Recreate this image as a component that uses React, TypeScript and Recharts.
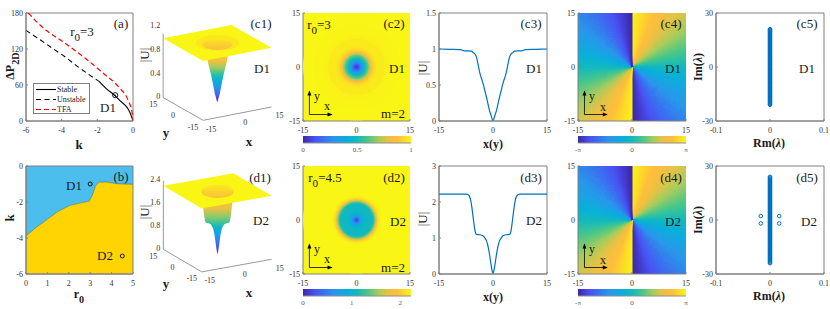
import React from "react";
import {
  Area,
  ComposedChart,
  Legend,
  Line,
  Pie,
  PieChart,
  ReferenceArea,
  Scatter,
  XAxis,
  YAxis,
  ZAxis,
} from "recharts";

const FONT = '"Liberation Serif", serif';
const BLUE = "#0072BD";

// panel (a): power curves
const stableK = [-1.9, -1.5, -1.02, -0.7, -0.37, -0.2, -0.09, 0];
const stableP = [66, 54, 42.5, 33, 24, 16, 8, 0];
const unstableK = [-6, -5.59, -4.75, -3.82, -2.98, -1.9];
const unstableP = [151, 143, 126, 107, 88, 66];
const tfaK = [-5.87, -5.03, -3.82, -2.7, -1.68, -0.75, -0.28, -0.04, 0];
const tfaP = [180, 155, 130, 105, 80, 55, 35, 12, 0];
const legendNames = ["Stable", "Unstable", "TFA"];
const legendColors = ["#000", "#000", "#FF0000"];
const legendDashes = [undefined, "5 3.5", "5 3"];

// panel (b): stability boundary
const boundaryR = [0, 0.5, 1, 1.5, 2.05, 2.5, 2.95, 3.1, 3.25, 3.42, 3.76, 4.22, 5];
const boundaryK = [-3.89, -3.39, -2.96, -2.52, -2.19, -2.06, -1.96, -1.63, -1.11, -0.89, -0.89, -0.98, -1.02];
const stateR = [3, 4.5];
const stateK = [-1, -5];

// radial amplitude profiles
const d1R = [0, 0.3, 0.6, 1, 1.4, 1.8, 2.2, 2.6, 3, 3.4, 3.8, 4.2, 4.6, 5, 5.5, 6, 7, 8, 9, 12, 15];
const d1U = [0, 0.04, 0.09, 0.15, 0.24, 0.33, 0.41, 0.49, 0.56, 0.62, 0.7, 0.8, 0.89, 0.93, 0.95, 0.97, 0.975, 0.975, 0.99, 0.995, 1];
const d2R = [0, 0.3, 0.6, 0.9, 1.2, 1.5, 1.8, 2.2, 2.8, 3.6, 4.6, 5, 5.4, 5.8, 6.2, 6.6, 7, 7.5, 8, 10, 15];
const d2U = [0, 0.12, 0.3, 0.5, 0.68, 0.82, 0.92, 0.99, 1.06, 1.09, 1.1, 1.2, 1.48, 1.8, 2.05, 2.17, 2.21, 2.22, 2.22, 2.22, 2.22];

// phase of each pie slice over one winding, 1 = +pi, 0 = -pi
const phaseSlices = [
  0.993, 0.979, 0.965, 0.951, 0.938, 0.924, 0.91, 0.896, 0.882, 0.868, 0.854, 0.84,
  0.826, 0.813, 0.799, 0.785, 0.771, 0.757, 0.743, 0.729, 0.715, 0.701, 0.688, 0.674,
  0.66, 0.646, 0.632, 0.618, 0.604, 0.59, 0.576, 0.563, 0.549, 0.535, 0.521, 0.507,
  0.493, 0.479, 0.465, 0.451, 0.438, 0.424, 0.41, 0.396, 0.382, 0.368, 0.354, 0.34,
  0.326, 0.313, 0.299, 0.285, 0.271, 0.257, 0.243, 0.229, 0.215, 0.201, 0.188, 0.174,
  0.16, 0.146, 0.132, 0.118, 0.104, 0.09, 0.076, 0.063, 0.049, 0.035, 0.021, 0.007,
];

// linear stability spectra
const d1Im = [
  -21, -20.5, -20, -19.5, -19, -18.5, -18, -17.5, -17, -16.5, -16, -15.5, -15, -14.5, -14, -13.5, -13, -12.5, -12, -11.5, -11,
  -10.5, -10, -9.5, -9, -8.5, -8, -7.5, -7, -6.5, -6, -5.5, -5, -4.5, -4, -3.5, -3, -2.5, -2, -1.5, -1, -0.5, 0,
  0.5, 1, 1.5, 2, 2.5, 3, 3.5, 4, 4.5, 5, 5.5, 6, 6.5, 7, 7.5, 8, 8.5, 9, 9.5, 10, 10.5,
  11, 11.5, 12, 12.5, 13, 13.5, 14, 14.5, 15, 15.5, 16, 16.5, 17, 17.5, 18, 18.5, 19, 19.5, 20, 20.5, 21,
];
const d2Im = [
  -24, -23.5, -23, -22.5, -22, -21.5, -21, -20.5, -20, -19.5, -19, -18.5, -18, -17.5, -17, -16.5, -16, -15.5, -15, -14.5, -14, -13.5, -13, -12.5, -12,
  -11.5, -11, -10.5, -10, -9.5, -9, -8.5, -8, -7.5, -7, -6.5, -6, -5.5, -5, -4.5, -4, -3.5, -3, -2.5, -2, -1.5, -1, -0.5, 0,
  0.5, 1, 1.5, 2, 2.5, 3, 3.5, 4, 4.5, 5, 5.5, 6, 6.5, 7, 7.5, 8, 8.5, 9, 9.5, 10, 10.5, 11, 11.5,
  12, 12.5, 13, 13.5, 14, 14.5, 15, 15.5, 16, 16.5, 17, 17.5, 18, 18.5, 19, 19.5, 20, 20.5, 21, 21.5, 22, 22.5, 23, 23.5, 24,
];
const d2OutRm = [-0.017, -0.017, 0.017, 0.017];
const d2OutIm = [2.2, -1.9, 2.2, -1.9];

const parulaStops: [number, string][] = [
  [0, "#3E26A8"],
  [0.11, "#4852F4"],
  [0.29, "#2797EB"],
  [0.42, "#08B0D8"],
  [0.5, "#12B9BE"],
  [0.6, "#4AC788"],
  [0.7, "#A8CC5C"],
  [0.78, "#E6C244"],
  [0.87, "#FFBE3A"],
  [1, "#F9F515"],
];

const parula = (t: number) => {
  const v = Math.max(0, Math.min(1, t));
  for (let i = 1; i < parulaStops.length; i++) {
    const [t1, c1] = parulaStops[i];
    if (v <= t1) {
      const [t0, c0] = parulaStops[i - 1];
      const f = (v - t0) / (t1 - t0);
      const part = (p: number) => {
        const a = parseInt(c0.slice(p, p + 2), 16);
        const b = parseInt(c1.slice(p, p + 2), 16);
        return Math.round(a + (b - a) * f);
      };
      return `rgb(${part(1)},${part(3)},${part(5)})`;
    }
  }
  return parulaStops[parulaStops.length - 1][1];
};

const zip = (xs: number[], ys: number[]) => xs.map((x, i) => ({ x, y: ys[i] }));
const mirror = (rs: number[], us: number[]) => [
  ...rs.slice(1).reverse().map((r, i) => ({ x: -r, y: us[us.length - 1 - i] })),
  ...rs.map((r, i) => ({ x: r, y: us[i] })),
];

const TOP = { a: 13, b: 166 };
const HEIGHT = 108;
const tick = { fontSize: 8, fill: "#333", fontFamily: FONT };

// chart box whose plot area lands exactly on l..r, t..t+HEIGHT
const box = (l: number, t: number, r: number) => ({
  style: { position: "absolute" as const, left: l - 28, top: t - 6 },
  width: r - l + 36,
  height: HEIGHT + 20,
  margin: { top: 6, right: 8, bottom: 0, left: 0 },
});

const axes = (xDomain: number[], xTicks: number[], yDomain: number[], yTicks: number[]) => [
  <XAxis
    key="x"
    type="number"
    dataKey="x"
    domain={xDomain}
    ticks={xTicks}
    interval={0}
    height={14}
    tick={tick}
    tickSize={-2}
    tickMargin={8}
    stroke="#808080"
    allowDataOverflow
  />,
  <YAxis
    key="y"
    type="number"
    domain={yDomain}
    ticks={yTicks}
    interval={0}
    width={28}
    tick={tick}
    tickSize={-2}
    tickMargin={5}
    stroke="#808080"
    allowDataOverflow
  />,
];

const frame = (xDomain: number[], yDomain: number[]) => (
  <ReferenceArea
    x1={xDomain[0]}
    x2={xDomain[1]}
    y1={yDomain[0]}
    y2={yDomain[1]}
    fill="none"
    stroke="#808080"
    strokeWidth={1}
    ifOverflow="visible"
  />
);

const Txt = ({ x, y, size = 13, bold, rotate, color = "#1a1a1a", children }: any) => (
  <span
    style={{
      position: "absolute",
      left: x,
      top: y,
      fontFamily: FONT,
      fontSize: size,
      fontWeight: bold ? "bold" : "normal",
      color,
      lineHeight: 1,
      whiteSpace: "nowrap",
      transform: `translate(-50%,-50%)${rotate ? ` rotate(${rotate}deg)` : ""}`,
    }}
  >
    {children}
  </span>
);

const Sub = ({ children }: any) => (
  <span style={{ fontSize: "0.85em", position: "relative", top: "0.45em" }}>{children}</span>
);

const arrowDot = (dir: "x" | "y") => (p: any) => {
  if (p.index !== 1) return <g key={p.index} />;
  const d =
    dir === "x"
      ? `M${p.cx + 1},${p.cy} l-5,-2 l0,4 z`
      : `M${p.cx},${p.cy - 1} l-2,5 l4,0 z`;
  return <path key={p.index} d={d} fill="#000" />;
};

// small x/y arrows drawn in data coordinates
const insetArrows = () => [
  <Line
    key="ax"
    data={[{ x: -13.2, y: -13.2 }, { x: -7, y: -13.2 }]}
    dataKey="y"
    stroke="#000"
    strokeWidth={0.8}
    dot={arrowDot("x")}
    isAnimationActive={false}
    legendType="none"
  />,
  <Line
    key="ay"
    data={[{ x: -13.2, y: -13.2 }, { x: -13.2, y: -6.8 }]}
    dataKey="y"
    stroke="#000"
    strokeWidth={0.8}
    dot={arrowDot("y")}
    isAnimationActive={false}
    legendType="none"
  />,
];

const span15 = [-15, 15];
const ticks15 = [-15, 0, 15];

const ringShape = (p: any) => <circle cx={p.cx} cy={p.cy} r={p.width / 2} fill={p.payload.fill} />;

const Heat = ({ left, top, rs, us, uMax }: any) => {
  const rings = rs
    .map((r: number, i: number) => ({ x: 0, y: 0, z: r * r, fill: parula(us[i] / uMax) }))
    .reverse();
  return (
    <ComposedChart {...box(left, top, left + 107)}>
      {axes(span15, ticks15, span15, ticks15)}
      <ZAxis dataKey="z" type="number" domain={[0, 225]} range={[0, Math.PI * 53.5 * 53.5]} />
      <ReferenceArea x1={-15} x2={15} y1={-15} y2={15} fill={parula(1)} fillOpacity={1} />
      <Scatter data={rings} dataKey="y" shape={ringShape} isAnimationActive={false} />
      {insetArrows()}
    </ComposedChart>
  );
};

const Profile = ({ left, top, rs, us, yMax, yTicks }: any) => (
  <ComposedChart {...box(left, top, left + 108)}>
    {axes(span15, ticks15, [0, yMax], yTicks)}
    <Line
      data={mirror(rs, us)}
      dataKey="y"
      stroke={BLUE}
      strokeWidth={1.2}
      dot={false}
      type="monotone"
      isAnimationActive={false}
    />
    {frame(span15, [0, yMax])}
  </ComposedChart>
);

const phaseData = [...phaseSlices, ...phaseSlices].map((phase) => ({
  phase,
  value: 1,
  fill: parula(phase),
  stroke: parula(phase),
}));

const Phase = ({ left, top }: any) => (
  <>
    <div style={{ position: "absolute", left, top, width: 108, height: HEIGHT, overflow: "hidden" }}>
      <PieChart width={108} height={HEIGHT} margin={{ top: 0, right: 0, bottom: 0, left: 0 }}>
        <Pie
          data={phaseData}
          dataKey="value"
          cx="50%"
          cy="50%"
          innerRadius={0}
          outerRadius={80}
          startAngle={90}
          endAngle={-270}
          strokeWidth={1}
          isAnimationActive={false}
        />
      </PieChart>
    </div>
    <ComposedChart {...box(left, top, left + 108)}>
      {axes(span15, ticks15, span15, ticks15)}
      {insetArrows()}
    </ComposedChart>
  </>
);

const specDot = (p: any) => (
  <circle cx={p.cx} cy={p.cy} r={1.8} fill="none" stroke={BLUE} strokeWidth={1} />
);

const Spectrum = ({ left, top, im, outRm, outIm }: any) => {
  const rmSpan = [-0.1, 0.1];
  const imSpan = [-30, 30];
  return (
    <ComposedChart {...box(left, top, left + 108)}>
      {axes(rmSpan, [-0.1, 0, 0.1], imSpan, [-30, 0, 30])}
      <Scatter
        data={im.map((y: number) => ({ x: 0, y }))}
        dataKey="y"
        shape={specDot}
        isAnimationActive={false}
      />
      {outRm ? <Scatter data={zip(outRm, outIm)} dataKey="y" shape={specDot} isAnimationActive={false} /> : null}
      {frame(rmSpan, imSpan)}
    </ComposedChart>
  );
};

const Colorbar = ({ id, left, top, domain, ticks, format }: any) => (
  <ComposedChart
    style={{ position: "absolute", left: left - 10, top: top - 1 }}
    width={128}
    height={21}
    margin={{ top: 1, right: 10, bottom: 0, left: 10 }}
  >
    <defs>
      <linearGradient id={id} x1="0" y1="0" x2="1" y2="0">
        {parulaStops.map(([t, c]) => (
          <stop key={t} offset={t} stopColor={c} />
        ))}
      </linearGradient>
    </defs>
    <XAxis
      type="number"
      dataKey="x"
      domain={domain}
      ticks={ticks}
      interval={0}
      height={13}
      tick={{ fontSize: 7, fill: "#555", fontFamily: FONT }}
      tickSize={0}
      tickMargin={4}
      tickFormatter={format}
      stroke="#909090"
    />
    <YAxis hide type="number" domain={[0, 1]} />
    <Area
      data={[{ x: domain[0], y: 1 }, { x: domain[1], y: 1 }]}
      dataKey="y"
      fill={`url(#${id})`}
      fillOpacity={1}
      stroke="none"
      isAnimationActive={false}
    />
  </ComposedChart>
);

const piLabel = (v: number) => (v < 0 ? "-π" : v > 0 ? "π" : "0");

// surface view: everything below is in page pixels after the projection
const Surface3D = ({ id, top, rs, us, uMax, p, zTicks, rimR, outerR, wallR, tilt }: any) => {
  const proj = (x: number, y: number, u: number) => ({
    x: p.cx + x * p.xx + y * p.yx,
    y: p.cy + x * p.xy + y * p.yy - u * p.uz,
  });
  const yOfU = (u: number) => p.cy - u * p.uz;
  const yTop = yOfU(uMax);
  const W = 2.55;

  const idx = rs.map((_: number, i: number) => i).filter((i: number) => rs[i] <= wallR);
  const side = idx.map((i: number) => ({ r: rs[i], y: yOfU(us[i]) }));
  const funnel = [
    ...side.slice(1).reverse().map((s: any) => ({ x: p.cx - s.r * W, band: [s.y, yTop] })),
    ...side.map((s: any) => ({ x: p.cx + s.r * W, band: [s.y, yTop] })),
  ];
  const bottomY = yOfU(0);
  const wallStops = idx.map((i: number) => ({
    offset: Math.max(0, Math.min(1, (yOfU(us[i]) + tilt * rs[i] - yTop) / (bottomY - yTop))),
    color: parula(us[i] / uMax),
  }));

  const L = proj(-15, 15, uMax);
  const B = proj(-15, -15, uMax);
  const R = proj(15, -15, uMax);
  const T = proj(15, 15, uMax);
  const edge = (a: any, b: any, x: number) => a.y + ((x - a.x) / (b.x - a.x)) * (b.y - a.y);
  const sheet = [
    { x: L.x, band: [L.y, L.y] },
    { x: B.x, band: [B.y, edge(L, T, B.x)] },
    { x: T.x, band: [edge(B, R, T.x), T.y] },
    { x: R.x, band: [R.y, R.y] },
  ];

  const center = proj(0, 0, uMax);
  const rings = [
    { x: center.x, y: center.y, z: outerR * outerR, fill: parula(0.965) },
    { x: center.x, y: center.y + 1.5, z: rimR * rimR, fill: `url(#${id}-rim)` },
  ];

  const floor = [proj(-15, 15, 0), proj(-15, -15, 0), proj(15, -15, 0)];
  const zLine = [proj(-15, 15, 0), proj(-15, 15, uMax * 1.08)];

  const label = (dx: number, dy: number, anchor: string) => (q: any) => (
    <text
      x={q.cx + dx}
      y={q.cy + dy}
      fontSize={8}
      fill="#333"
      fontFamily={FONT}
      textAnchor={anchor}
      dominantBaseline="middle"
    >
      {q.payload.text}
    </text>
  );
  const xLabels = ticks15.map((t) => ({ ...proj(t, -15, 0), text: String(t) }));
  const yLabels = ticks15.map((t) => ({ ...proj(-15, t, 0), text: String(t) }));
  const zLabels = zTicks.map((t: number) => ({ ...proj(-15, 15, t), text: String(t) }));

  return (
    <ComposedChart
      style={{ position: "absolute", left: 140, top }}
      width={150}
      height={130}
      margin={{ top: 0, right: 0, bottom: 0, left: 0 }}
    >
      <defs>
        <linearGradient id={`${id}-wall`} x1="0" y1="0" x2="0" y2="1">
          {wallStops
            .slice()
            .reverse()
            .map((s: any, i: number) => (
              <stop key={i} offset={s.offset} stopColor={s.color} />
            ))}
        </linearGradient>
        <linearGradient id={`${id}-rim`} x1="0" y1="0" x2="0" y2="1">
          <stop offset="0" stopColor={parula(0.96)} />
          <stop offset="1" stopColor={parula(0.85)} />
        </linearGradient>
      </defs>
      <XAxis hide type="number" dataKey="x" domain={[140, 290]} allowDataOverflow />
      <YAxis hide type="number" domain={[top, top + 130]} reversed allowDataOverflow />
      <ZAxis dataKey="z" type="number" domain={[0, 225]} range={[0, Math.PI * 39.6 * 39.6]} />
      <Line data={floor} dataKey="y" stroke="#808080" strokeWidth={0.8} dot={false} isAnimationActive={false} />
      <Line data={zLine} dataKey="y" stroke="#808080" strokeWidth={0.8} dot={false} isAnimationActive={false} />
      <Area
        data={funnel}
        dataKey="band"
        fill={`url(#${id}-wall)`}
        fillOpacity={1}
        stroke="none"
        isAnimationActive={false}
      />
      <Area data={sheet} dataKey="band" fill={parula(1)} fillOpacity={1} stroke="none" isAnimationActive={false} />
      <Scatter
        data={rings}
        dataKey="y"
        isAnimationActive={false}
        shape={(q: any) => (
          <ellipse cx={q.cx} cy={q.cy} rx={q.width / 2} ry={(q.width / 2) * 0.36} fill={q.payload.fill} />
        )}
      />
      <Scatter data={xLabels} dataKey="y" shape={label(8, 9.5, "middle")} isAnimationActive={false} />
      <Scatter data={yLabels} dataKey="y" shape={label(-10, 7.5, "middle")} isAnimationActive={false} />
      <Scatter data={zLabels} dataKey="y" shape={label(-3, 0, "end")} isAnimationActive={false} />
    </ComposedChart>
  );
};

const LegendBox = () => (
  <svg width={55} height={29} style={{ display: "block" }}>
    {legendNames.map((name, i) => (
      <g key={name}>
        <line
          x1={2}
          x2={22}
          y1={5.5 + i * 10}
          y2={5.5 + i * 10}
          stroke={legendColors[i]}
          strokeWidth={1.1}
          strokeDasharray={legendDashes[i]}
        />
        <text x={23} y={8 + i * 10} fontSize={8} fontFamily={FONT} fill="#222">
          {name}
        </text>
      </g>
    ))}
  </svg>
);

const PanelA = () => {
  const xs = [-6, 0];
  const ys = [0, 180];
  const series = [
    zip(stableK, stableP),
    zip(unstableK, unstableP),
    zip(tfaK, tfaP),
  ];
  const ringDot = (p: any) => (
    <g>
      <circle cx={p.cx} cy={p.cy} r={2.6} fill="none" stroke="#000" strokeWidth={0.9} />
      <circle cx={p.cx} cy={p.cy} r={0.6} fill="#000" />
    </g>
  );
  return (
    <ComposedChart {...box(26, TOP.a, 133)}>
      {axes(xs, [-6, -4, -2, 0], ys, [0, 60, 120, 180])}
      {legendNames.map((name, i) => (
        <Line
          key={name}
          name={name}
          data={series[i]}
          dataKey="y"
          stroke={legendColors[i]}
          strokeWidth={i === 2 ? 1.2 : 1.1}
          strokeDasharray={legendDashes[i]}
          dot={false}
          type="monotone"
          isAnimationActive={false}
        />
      ))}
      <Scatter legendType="none" data={[{ x: -1, y: 43 }]} dataKey="y" shape={ringDot} isAnimationActive={false} />
      {frame(xs, ys)}
      <Legend
        layout="vertical"
        align="center"
        verticalAlign="middle"
        content={LegendBox}
        wrapperStyle={{
          left: 35,
          top: 76,
          width: 57,
          height: 31,
          background: "#fff",
          border: "1px solid #808080",
          boxSizing: "border-box",
        }}
      />
    </ComposedChart>
  );
};

const PanelB = () => {
  const xs = [0, 5];
  const ys = [-6, 0];
  const rows = boundaryR.map((x, i) => ({ x, lower: [-6, boundaryK[i]], upper: [boundaryK[i], 0] }));
  return (
    <ComposedChart {...box(26, TOP.b, 133)}>
      {axes(xs, [0, 1, 2, 3, 4, 5], ys, [-6, -4, -2, 0])}
      <Area data={rows} dataKey="upper" fill="#4BBEEE" fillOpacity={1} stroke="none" isAnimationActive={false} />
      <Area data={rows} dataKey="lower" fill="#FFD400" fillOpacity={1} stroke="none" isAnimationActive={false} />
      <Line data={zip(boundaryR, boundaryK)} dataKey="y" stroke="#2a5a6a" strokeWidth={0.5} dot={false} isAnimationActive={false} />
      <Scatter
        data={zip(stateR, stateK)}
        dataKey="y"
        isAnimationActive={false}
        shape={(p: any) => <circle cx={p.cx} cy={p.cy} r={2} fill="none" stroke="#000" strokeWidth={0.9} />}
      />
      {frame(xs, ys)}
    </ComposedChart>
  );
};

const AxisLabels = () => (
  <>
    <Txt x={79} y={144} size={13} bold>k</Txt>
    <Txt x={10} y={66} size={12} bold rotate={-90}>ΔP<Sub>2D</Sub></Txt>
    <Txt x={9} y={218} size={13} bold rotate={-90}>k</Txt>
    <Txt x={79} y={294} size={12} bold>r<Sub>0</Sub></Txt>

    <Txt x={144} y={55} size={13} rotate={-90}>|U|</Txt>
    <Txt x={249} y={141} size={13} bold>x</Txt>
    <Txt x={166} y={132} size={13} bold>y</Txt>
    <Txt x={144} y={212} size={13} rotate={-90}>|U|</Txt>
    <Txt x={249} y={292} size={13} bold>x</Txt>
    <Txt x={166} y={283} size={13} bold>y</Txt>

    <Txt x={422} y={68} size={13} rotate={-90}>|U|</Txt>
    <Txt x={493} y={144} size={12} bold>x(y)</Txt>
    <Txt x={422} y={219} size={13} rotate={-90}>|U|</Txt>
    <Txt x={493} y={297} size={12} bold>x(y)</Txt>

    <Txt x={698} y={67} size={12} bold rotate={-90}>Im(<i>λ</i>)</Txt>
    <Txt x={769} y={143} size={12} bold>Rm(<i>λ</i>)</Txt>
    <Txt x={698} y={220} size={12} bold rotate={-90}>Im(<i>λ</i>)</Txt>
    <Txt x={769} y={296} size={12} bold>Rm(<i>λ</i>)</Txt>
  </>
);

const Notes = () => (
  <>
    <Txt x={121} y={23}>(a)</Txt>
    <Txt x={82} y={32}>r<Sub>0</Sub>=3</Txt>
    <Txt x={108} y={107}>D1</Txt>
    <Txt x={121} y={176}>(b)</Txt>
    <Txt x={74} y={185}>D1</Txt>
    <Txt x={105} y={255}>D2</Txt>

    <Txt x={261} y={23}>(c1)</Txt>
    <Txt x={262} y={68}>D1</Txt>
    <Txt x={260} y={177}>(d1)</Txt>
    <Txt x={261} y={220}>D2</Txt>

    <Txt x={319} y={25}>r<Sub>0</Sub>=3</Txt>
    <Txt x={394} y={23}>(c2)</Txt>
    <Txt x={397} y={68}>D1</Txt>
    <Txt x={393} y={113}>m=2</Txt>
    <Txt x={317} y={96} size={12}>y</Txt>
    <Txt x={327} y={106} size={12}>x</Txt>

    <Txt x={325} y={178}>r<Sub>0</Sub>=4.5</Txt>
    <Txt x={394} y={177}>(d2)</Txt>
    <Txt x={398} y={221}>D2</Txt>
    <Txt x={393} y={267}>m=2</Txt>
    <Txt x={317} y={249} size={12}>y</Txt>
    <Txt x={327} y={259} size={12}>x</Txt>

    <Txt x={531} y={23}>(c3)</Txt>
    <Txt x={534} y={68}>D1</Txt>
    <Txt x={531} y={177}>(d3)</Txt>
    <Txt x={534} y={220}>D2</Txt>

    <Txt x={671} y={23}>(c4)</Txt>
    <Txt x={673} y={68}>D1</Txt>
    <Txt x={592} y={96} size={12}>y</Txt>
    <Txt x={603} y={107} size={12}>x</Txt>
    <Txt x={671} y={177}>(d4)</Txt>
    <Txt x={673} y={221}>D2</Txt>
    <Txt x={592} y={249} size={12}>y</Txt>
    <Txt x={603} y={260} size={12}>x</Txt>

    <Txt x={807} y={23}>(c5)</Txt>
    <Txt x={807} y={68}>D1</Txt>
    <Txt x={807} y={177}>(d5)</Txt>
    <Txt x={809} y={221}>D2</Txt>
  </>
);

export default function App() {
  return (
    <div style={{ position: "absolute", left: 0, top: 0, width: 830, height: 309, background: "#fff", overflow: "hidden" }}>
      <PanelA />
      <PanelB />
      <Surface3D
        id="c1"
        top={5}
        rs={d1R}
        us={d1U}
        uMax={1}
        p={{ cx: 217.3, cy: 102.3, xx: 2.28, xy: -0.443, yx: -1.33, yy: -0.757, uz: 59.3 }}
        zTicks={[0, 0.4, 0.8, 1.2]}
        rimR={5.7}
        outerR={8.2}
        wallR={6}
        tilt={1.6}
      />
      <Surface3D
        id="d1"
        top={160}
        rs={d2R}
        us={d2U}
        uMax={2.22}
        p={{ cx: 217.5, cy: 254.3, xx: 2.33, xy: -0.42, yx: -1.28, yy: -0.753, uz: 28.6 }}
        zTicks={[0, 0.8, 1.6, 2.4]}
        rimR={6}
        outerR={6.4}
        wallR={5.8}
        tilt={0.9}
      />
      <Heat left={303} top={TOP.a} rs={d1R} us={d1U} uMax={1} />
      <Heat left={303} top={TOP.b} rs={d2R} us={d2U} uMax={2.22} />
      <Colorbar id="cb1" left={303} top={136} domain={[0, 1]} ticks={[0, 0.5, 1]} />
      <Colorbar id="cb2" left={303} top={289} domain={[0, 2.22]} ticks={[0, 1, 2]} />
      <Profile left={439} top={TOP.a} rs={d1R} us={d1U} yMax={1.5} yTicks={[0, 0.5, 1, 1.5]} />
      <Profile left={439} top={TOP.b} rs={d2R} us={d2U} yMax={3} yTicks={[0, 1, 2, 3]} />
      <Phase left={578} top={TOP.a} />
      <Phase left={578} top={TOP.b} />
      <Colorbar id="cb3" left={578} top={136} domain={[-3.14, 3.14]} ticks={[-3.14, 0, 3.14]} format={piLabel} />
      <Colorbar id="cb4" left={578} top={289} domain={[-3.14, 3.14]} ticks={[-3.14, 0, 3.14]} format={piLabel} />
      <Spectrum left={716} top={TOP.a} im={d1Im} />
      <Spectrum left={716} top={TOP.b} im={d2Im} outRm={d2OutRm} outIm={d2OutIm} />
      <AxisLabels />
      <Notes />
    </div>
  );
}
